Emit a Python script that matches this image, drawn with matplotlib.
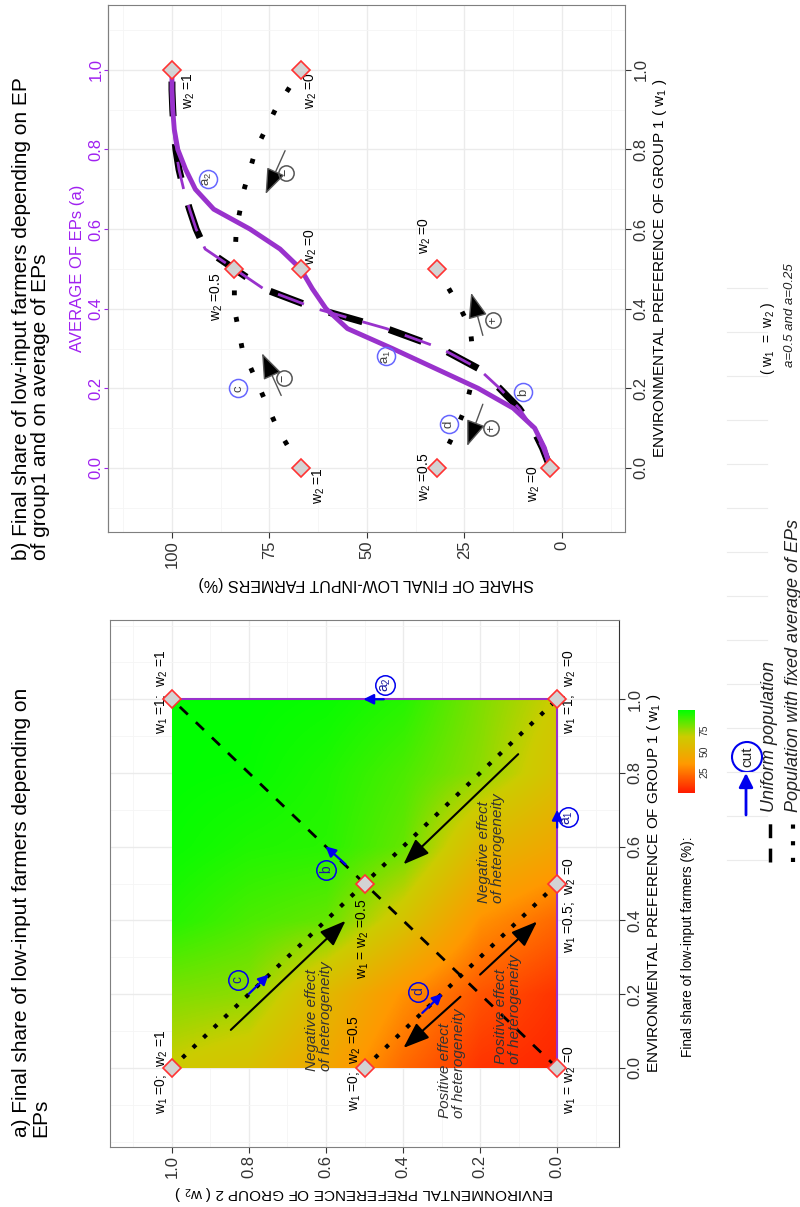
import numpy as np
import matplotlib.pyplot as plt
from matplotlib.colors import LinearSegmentedColormap
from matplotlib.patches import Rectangle, Circle

plt.rcParams['font.family'] = ['Liberation Sans', 'DejaVu Sans']
plt.rcParams['mathtext.fontset'] = 'custom'
plt.rcParams['mathtext.rm'] = 'Liberation Sans'
plt.rcParams['mathtext.it'] = 'Liberation Sans:italic'

W, H = 800, 1207
PURPLE = '#9932CC'
AXIS_PURPLE = '#A020F0'
GRID = '#EBEBEB'

# ---- panel a: final share (%) on a coarse grid of EPs (rows = w1, columns = w2)
grid_w = [0.0, 0.2, 0.4, 0.6, 0.8, 1.0]
share_grid = [
    [3.0, 7.0, 21.5, 43.5, 60.5, 67.0],
    [7.0, 16.0, 33.0, 55.0, 77.5, 80.0],
    [21.5, 33.0, 62.0, 84.0, 88.0, 94.0],
    [43.5, 55.0, 84.0, 93.5, 95.0, 98.5],
    [60.5, 77.5, 88.0, 95.0, 99.0, 99.8],
    [67.0, 80.0, 94.0, 98.5, 99.8, 100.0],
]
pop_w1 = [0, 0, 0, 0.5, 0.5, 1, 1]
pop_w2 = [1, 0.5, 0, 0.5, 0, 1, 0]
fixed_avg = [0.5, 0.25]

# ---- panel b: cuts through panel a
ep_steps = [0, 0.05, 0.1, 0.15, 0.2, 0.25, 0.3, 0.35, 0.4, 0.45, 0.5,
            0.55, 0.6, 0.65, 0.7, 0.75, 0.8, 0.85, 0.9, 0.95, 1.0]
uniform_share = [3, 5, 7.5, 11, 16, 21.5, 31, 45, 63, 76.5, 84,
                 91.5, 93.8, 95.5, 97, 98.2, 99, 99.5, 99.8, 100, 100]
avg_share = [3, 4.5, 7, 12.5, 21.5, 32.5, 43.5, 55, 60.5, 64, 67,
             72.3, 80, 89.3, 94, 96.5, 98.5, 99.4, 99.8, 100, 100]
fix05_w1 = [0, 0.1, 0.2, 0.3, 0.4, 0.5, 0.6, 0.7, 0.8, 0.9, 1.0]
fix05_share = [67, 73, 77.5, 82, 84, 84, 83.5, 81.5, 78.5, 73.5, 67]
fix025_w1 = [0, 0.05, 0.1, 0.15, 0.2, 0.25, 0.3, 0.35, 0.4, 0.45, 0.5]
fix025_share = [32, 29.5, 27, 24.8, 23.5, 23, 23, 23.5, 26, 29, 32]
mark_w1 = [1, 1, 0.5, 0.5, 0.5, 0, 0, 0]
mark_share = [100, 67, 84, 67, 32, 67, 32, 3]

ep_ticks = [0.0, 0.2, 0.4, 0.6, 0.8, 1.0]
ep_minor = [-0.1, 0.1, 0.3, 0.5, 0.7, 0.9, 1.1]
ep_minor_a = [-0.2, -0.1, 0.1, 0.3, 0.5, 0.7, 0.9, 1.1, 1.2]
share_ticks = [0, 25, 50, 75, 100]
share_minor = [-12.5, 12.5, 37.5, 62.5, 87.5, 112.5]
legend_ticks = [25, 50, 75]


def box(x0, y0, x1, y1):
    return [x0 / W, 1 - y1 / H, (x1 - x0) / W, (y1 - y0) / H]


def rtext(ax, x, y, s, dx=0, dy=0, size=10, ha='center', va='center', **kw):
    ax.annotate(s, (x, y), xytext=(dx, dy), textcoords='offset pixels',
                rotation=90, rotation_mode='anchor', fontsize=size,
                ha=ha, va=va, annotation_clip=False, **kw)


def style(ax):
    for s in ax.spines.values():
        s.set_color('#7F7F7F')
        s.set_linewidth(0.8)
    ax.grid(True, which='major', color=GRID, lw=1.0)
    ax.grid(True, which='minor', color='#F5F5F5', lw=0.6)
    ax.set_axisbelow(True)
    ax.tick_params(which='major', color='#333333', length=4, labelsize=12,
                   labelcolor='#333333', pad=2)
    ax.tick_params(which='minor', length=0)


def big_arrow(ax, tail, tip, lw=1.5, ec='black'):
    ax.annotate('', xy=tip, xytext=tail, annotation_clip=False,
                arrowprops=dict(arrowstyle='-|>,head_length=0.8,head_width=0.3',
                                mutation_scale=20, lw=lw, fc='black', ec=ec,
                                shrinkA=0, shrinkB=0))


def blue_arrow(ax, tail, tip):
    ax.annotate('', xy=tip, xytext=tail, annotation_clip=False,
                arrowprops=dict(arrowstyle='-|>,head_length=0.5,head_width=0.25',
                                mutation_scale=12, lw=1.6, color='#0000EE',
                                shrinkA=0, shrinkB=0))


def ring(ax, x, y, s, ms=14, ec='#0000EE', tc='#1a1aa0', size=10):
    ax.plot([x], [y], 'o', ms=ms, mfc='none', mec=ec, mew=1.1, clip_on=False, zorder=6)
    rtext(ax, x, y, s, size=size, color=tc, zorder=7)


cmap = LinearSegmentedColormap.from_list(
    'share', [(0, '#ff1a00'), (0.35, '#ff9900'), (0.68, '#cccc00'), (1, '#00ff00')])

fig = plt.figure(figsize=(8, 12.07), dpi=100)

# overlay in pixel units for the free legend pieces
axo = fig.add_axes([0, 0, 1, 1])
axo.set_xlim(0, W)
axo.set_ylim(H, 0)
axo.axis('off')

# ================= panel a =================
axa = fig.add_axes(box(110, 620, 619, 1147))
half = (grid_w[1] - grid_w[0]) / 2
im = axa.imshow(np.array(share_grid), origin='lower', cmap=cmap, vmin=0, vmax=100,
                extent=(grid_w[0] - half, grid_w[-1] + half, grid_w[0] - half, grid_w[-1] + half),
                interpolation='bilinear', aspect='auto', zorder=1)
im.set_clip_path(Rectangle((grid_w[0], grid_w[0]), grid_w[-1] - grid_w[0],
                           grid_w[-1] - grid_w[0], transform=axa.transData))
style(axa)
axa.set_xticks(ep_ticks)
axa.set_xticklabels([f'{t:.1f}' for t in ep_ticks])
axa.set_xticks(ep_minor, minor=True)
axa.set_yticks(ep_ticks)
axa.set_yticklabels([f'{t:.1f}' for t in ep_ticks])
axa.set_yticks(ep_minor_a, minor=True)
axa.set_xlim(1.1606, -0.1606)
axa.set_ylim(-0.2147, 1.215)
axa.yaxis.tick_right()
axa.tick_params(axis='x', labelrotation=90)
axa.tick_params(axis='y', labelrotation=90)
plt.setp(axa.get_yticklabels(), va='center')
axa.spines['right'].set_color('#333333')
axa.set_xlabel(r'ENVIRONMENTAL PREFERENCE OF GROUP 2 ( $\mathregular{w_2}$ )',
               rotation=180, fontsize=11, labelpad=4)
axa.yaxis.set_label_position('right')
axa.set_ylabel(r'ENVIRONMENTAL PREFERENCE OF GROUP 1 ( $\mathregular{w_1}$ )',
               fontsize=11, labelpad=2)

# uniform population diagonal and fixed-average lines
axa.plot([grid_w[0], grid_w[-1]], [grid_w[0], grid_w[-1]], color='black', lw=2,
         ls=(0, (4, 4)), zorder=3)
for a in fixed_avg:
    axa.plot([2 * a, 0], [0, 2 * a], color='black', lw=3, ls=(0, (1, 2.5)), zorder=3)
axa.plot([0, 0, 1], [0, 1, 1], color=PURPLE, lw=1.5, zorder=3)
axa.plot(pop_w2, pop_w1, 'D', ms=9, mfc='#D3D3D3', mec='#FF3333', mew=1.2,
         clip_on=False, zorder=5)

w1s = r'$\mathregular{w_1}$'
w2s = r'$\mathregular{w_2}$'
rtext(axa, 1, 0, f'{w1s} =0;  {w2s} =1', dx=-10, dy=-4)
rtext(axa, 0.5, 0, f'{w1s} =0;  {w2s} =0.5', dx=-10, dy=5)
rtext(axa, 0, 0, f'{w1s} = {w2s} =0', dx=13, dy=-12)
rtext(axa, 1, 1, f'{w1s} =1;  {w2s} =1', dx=-10, dy=7)
rtext(axa, 0, 1, f'{w1s} =1;  {w2s} =0', dx=13, dy=7)
rtext(axa, 0.5, 0.5, f'{w1s} = {w2s} =0.5', dx=-2, dy=-15, ha='right')
rtext(axa, 0, 0.5, f'{w1s} =0.5;  {w2s} =0', dx=13, dy=-22)

eff = dict(size=11, color='#333333', style='italic', ha='left', linespacing=1.0)
rtext(axa, 0.619, -0.008, 'Negative effect\nof heterogeneity', **eff)
rtext(axa, 0.171, 0.446, 'Negative effect\nof heterogeneity', **eff)
rtext(axa, 0.272, -0.136, 'Positive effect\nof heterogeneity', **eff)
rtext(axa, 0.127, 0.011, 'Positive effect\nof heterogeneity', **eff)

big_arrow(axa, (0.847, 0.103), (0.549, 0.399))
big_arrow(axa, (0.101, 0.851), (0.399, 0.552))
big_arrow(axa, (0.251, 0.193), (0.399, 0.054))
big_arrow(axa, (0.200, 0.253), (0.052, 0.397))

blue_arrow(axa, (0.45, 1.0), (0.503, 1.0))
blue_arrow(axa, (0.0, 0.652), (0.0, 0.70))
blue_arrow(axa, (0.549, 0.552), (0.601, 0.601))
blue_arrow(axa, (0.80, 0.201), (0.749, 0.253))
blue_arrow(axa, (0.35, 0.149), (0.298, 0.201))
ring(axa, 0.446, 1.04, r'$\mathregular{a_2}$')
ring(axa, -0.028, 0.68, r'$\mathregular{a_1}$')
ring(axa, 0.6, 0.538, 'b')
ring(axa, 0.829, 0.239, 'c')
ring(axa, 0.36, 0.207, 'd')

# colour legend
cax = fig.add_axes(box(678, 710, 695, 793))
cb = fig.colorbar(im, cax=cax, ticks=legend_ticks)
cb.outline.set_visible(False)
cax.tick_params(length=0, labelsize=7.5, labelrotation=90, pad=3, labelcolor='#333333')
plt.setp(cax.get_yticklabels(), va='center')
fig.text(688 / W, 1 - 1057 / H, 'Final share of low-input farmers (%):', rotation=90,
         rotation_mode='anchor', ha='left', va='center', fontsize=9.8)

# ================= panel b =================
axb = fig.add_axes(box(108, 5, 625, 532))
style(axb)
axb.set_xticks(share_ticks)
axb.set_xticklabels([str(t) for t in share_ticks])
axb.set_xticks(share_minor, minor=True)
axb.set_yticks(ep_ticks)
axb.set_yticklabels([f'{t:.1f}' for t in ep_ticks])
axb.set_yticks(ep_minor, minor=True)
axb.set_xlim(116.4, -16.15)
axb.set_ylim(-0.161, 1.163)
axb.yaxis.tick_right()
axb.tick_params(axis='x', labelrotation=90)
axb.tick_params(axis='y', labelrotation=90)
plt.setp(axb.get_yticklabels(), va='center')
axb.set_xlabel('SHARE OF FINAL LOW-INPUT FARMERS (%)', rotation=180, fontsize=11.5, labelpad=6)
axb.yaxis.set_label_position('right')
axb.set_ylabel(r'ENVIRONMENTAL PREFERENCE OF GROUP 1 ( $\mathregular{w_1}$ )',
               fontsize=11, labelpad=2)

sec = axb.secondary_yaxis('left')
sec.set_yticks(ep_ticks)
sec.set_yticklabels([f'{t:.1f}' for t in ep_ticks])
sec.tick_params(colors=AXIS_PURPLE, labelrotation=90, labelsize=12, length=3, pad=0)
plt.setp(sec.get_yticklabels(), va='center')
sec.spines['left'].set_color('#7F7F7F')
sec.set_ylabel('AVERAGE OF EPs (a)', color=AXIS_PURPLE, fontsize=12, labelpad=3)

axb.plot(fix05_share, fix05_w1, color='black', lw=3.5, ls=(0, (1, 4.5)), zorder=3)
axb.plot(fix025_share, fix025_w1, color='black', lw=3.5, ls=(0, (1, 4.5)), zorder=3)
axb.plot(uniform_share, ep_steps, color='black', lw=5, ls=(0, (5, 4)), zorder=3)
axb.plot(uniform_share, ep_steps, color=PURPLE, lw=2, ls=(0, (10, 6)), zorder=3)
axb.plot(avg_share, ep_steps, color=PURPLE, lw=3.5, zorder=4)
axb.plot(mark_share, mark_w1, 'D', ms=9, mfc='#D3D3D3', mec='#FF3333', mew=1.2,
         clip_on=False, zorder=5)

w2l = r'$\mathregular{w_2}$'
rtext(axb, 100, 1, f'{w2l} =1', dx=17, dy=-21)
rtext(axb, 67, 1, f'{w2l} =0', dx=10, dy=-21)
rtext(axb, 84, 0.5, f'{w2l} =0.5', dx=-18, dy=-28)
rtext(axb, 67, 0.5, f'{w2l} =0', dx=10, dy=22)
rtext(axb, 32, 0.5, f'{w2l} =0', dx=-12, dy=33)
rtext(axb, 67, 0, f'{w2l} =1', dx=18, dy=-18)
rtext(axb, 32, 0, f'{w2l} =0.5', dx=-12, dy=-9)
rtext(axb, 3, 0, f'{w2l} =0', dx=-17, dy=-16)

big_arrow(axb, (72, 0.182), (76.9, 0.288), lw=1, ec='#555555')
big_arrow(axb, (20.3, 0.16), (24.3, 0.055), lw=1, ec='#555555')
big_arrow(axb, (20.3, 0.333), (23.3, 0.44), lw=1, ec='#555555')
big_arrow(axb, (71, 0.797), (76, 0.688), lw=1, ec='#555555')
for s, x, y in [('\u2212', 71.4, 0.226), ('+', 18.1, 0.1), ('+', 17.6, 0.371), ('\u2212', 70.7, 0.742)]:
    ring(axb, x, y, s, ms=11, ec='#555555', tc='#333333', size=9)

ring(axb, 83, 0.2, 'c', ms=13, ec='#6666FF', tc='#444444', size=9.5)
ring(axb, 45, 0.28, r'$\mathregular{a_1}$', ms=13, ec='#6666FF', tc='#444444', size=9.5)
ring(axb, 10, 0.19, 'b', ms=13, ec='#6666FF', tc='#444444', size=9.5)
ring(axb, 29, 0.11, 'd', ms=13, ec='#6666FF', tc='#444444', size=9.5)
ring(axb, 90.8, 0.725, r'$\mathregular{a_2}$', ms=13, ec='#6666FF', tc='#444444', size=9.5)

# ================= titles =================
fig.text(12 / W, 1 - 1137 / H, 'a) Final share of low-input farmers depending on\nEPs',
         rotation=90, rotation_mode='anchor', ha='left', va='top', fontsize=15,
         linespacing=1.0)
fig.text(12 / W, 1 - 560 / H,
         'b) Final share of low-input farmers depending on EP\nof group1 and on average of EPs',
         rotation=90, rotation_mode='anchor', ha='left', va='top', fontsize=15,
         linespacing=1.0)

# ================= line legend =================
for gy in range(288, 870, 44):
    axo.plot([727, 767], [gy, gy], color=GRID, lw=0.8)
axo.plot([770, 770], [862, 815], color='black', lw=2.5, ls=(0, (4, 3)))
axo.plot([793, 793], [862, 815], color='black', lw=3, ls=(0, (1, 3)))
axo.text(770, 812, 'Uniform population', rotation=90, rotation_mode='anchor',
         ha='left', va='center', fontsize=13, style='italic', color='#222222')
axo.text(793, 812, 'Population with fixed average of EPs', rotation=90,
         rotation_mode='anchor', ha='left', va='center', fontsize=13, style='italic',
         color='#222222')
axo.text(768, 338, r'( $\mathregular{w_1}$  =  $\mathregular{w_2}$ )', rotation=90,
         rotation_mode='anchor', ha='center', va='center', fontsize=10)
axo.text(790, 315, 'a=0.5 and a=0.25', rotation=90, rotation_mode='anchor',
         ha='center', va='center', fontsize=9.5, style='italic', color='#222222')
axo.add_patch(Circle((747, 757), 15, fill=False, ec='#0000EE', lw=1.5))
axo.text(747, 757, 'cut', rotation=90, rotation_mode='anchor', ha='center',
         va='center', fontsize=11, color='#222222')
axo.annotate('', xy=(746, 773), xytext=(746, 815),
             arrowprops=dict(arrowstyle='-|>,head_length=0.6,head_width=0.3',
                             mutation_scale=14, lw=2, color='#0000EE',
                             shrinkA=0, shrinkB=0))

fig.savefig('out.png', dpi=100)
